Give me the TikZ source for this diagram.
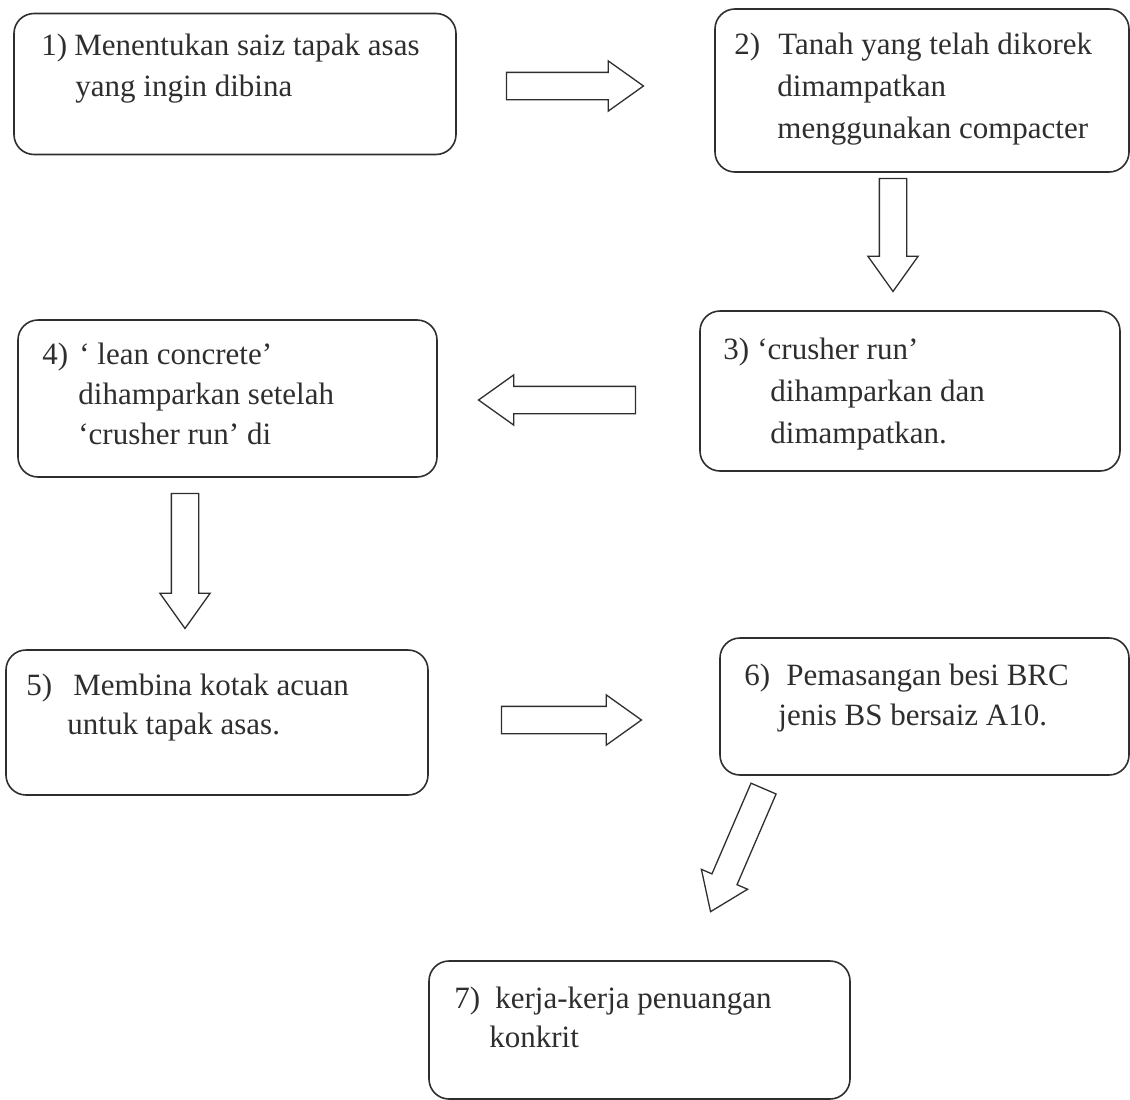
\documentclass[tikz,border=0pt]{standalone}
\usepackage{fontspec}
\setmainfont{Liberation Serif}
\usepackage{tikz}
\usepackage{xcolor}
\usetikzlibrary{shapes.arrows,calc}

\definecolor{inkgray}{HTML}{2E2E2E}

\begin{document}
\begin{tikzpicture}[x=1pt,y=-1pt,
    stepbox/.style={draw=inkgray, line width=1.6pt, rounded corners=20pt, inner sep=0pt},
    steptext/.style={anchor=base west, inner sep=0pt, text=inkgray, font=\fontsize{31}{#1}\selectfont},
    steptext/.default=40,
    flowarrow/.style={single arrow, draw=inkgray, line width=1.3pt, inner sep=13pt, anchor=tail,
        single arrow head extend=11.5pt, single arrow tip angle=71, minimum width=49pt}]
            \useasboundingbox (0,0) rectangle (1130,1100);

            % the seven steps
            \node[stepbox, minimum width=442pt, minimum height=141pt] (s1) at (235,84) {};
            \node[stepbox, minimum width=414pt, minimum height=163pt] (s2) at (922,90.5) {};
            \node[stepbox, minimum width=420pt, minimum height=160pt] (s3) at (910,391) {};
            \node[stepbox, minimum width=419pt, minimum height=157pt] (s4) at (227.5,398.5) {};
            \node[stepbox, minimum width=422pt, minimum height=145pt] (s5) at (217,722.5) {};
            \node[stepbox, minimum width=409pt, minimum height=137pt] (s6) at (924.5,706.5) {};
            \node[stepbox, minimum width=421pt, minimum height=138pt] (s7) at (639.5,1030) {};

            \node[steptext=41] (t1) at ($(s1.north west)+(28,43)$) {\begin{tabular}[t]{@{}l@{}}\makebox[33pt][l]{1)}Menentukan saiz tapak asas\\\hspace*{34pt}yang ingin dibina\end{tabular}};
            \node[steptext=42] (t2) at ($(s2.north west)+(20,46)$) {\begin{tabular}[t]{@{}l@{}}\makebox[44pt][l]{2)}Tanah yang telah dikorek\\\hspace*{43pt}dimampatkan\\\hspace*{43pt}menggunakan compacter\end{tabular}};
            \node[steptext=42] (t3) at ($(s3.north west)+(24,49)$) {\begin{tabular}[t]{@{}l@{}}\makebox[34pt][l]{3)}‘crusher run’\\\hspace*{47pt}dihamparkan dan\\\hspace*{47pt}dimampatkan.\end{tabular}};
            \node[steptext] (t4) at ($(s4.north west)+(25,45)$) {\begin{tabular}[t]{@{}l@{}}\makebox[37pt][l]{4)}‘ lean concrete’\\\hspace*{36pt}dihamparkan setelah\\\hspace*{36pt}‘crusher run’ di\end{tabular}};
            \node[steptext=39] (t5) at ($(s5.north west)+(21,46)$) {\begin{tabular}[t]{@{}l@{}}\makebox[47pt][l]{5)}Membina kotak acuan\\\hspace*{41pt}untuk tapak asas.\end{tabular}};
            \node[steptext] (t6) at ($(s6.north west)+(25,48)$) {\begin{tabular}[t]{@{}l@{}}\makebox[42pt][l]{6)}Pemasangan besi BRC\\\hspace*{34pt}jenis BS bersaiz A10.\end{tabular}};
            \node[steptext=39] (t7) at ($(s7.north west)+(26,48)$) {\begin{tabular}[t]{@{}l@{}}\makebox[41pt][l]{7)}kerja-kerja penuangan\\\hspace*{35pt}konkrit\end{tabular}};

            % block arrows between the steps
            \node[flowarrow, minimum height=137pt] (a12) at ($(s1.east)+(49,2)$) {};
            \node[flowarrow, minimum height=113pt, rotate=-90] (a23) at ($(s2.south)+(-29,5)$) {};
            \node[flowarrow, minimum height=157pt, rotate=180] (a34) at ($(s3.west)+(-63,9)$) {};
            \node[flowarrow, minimum height=135pt, rotate=-90] (a45) at ($(s4.south)+(-42.5,15)$) {};
            \node[flowarrow, minimum height=140pt] (a56) at ($(s5.east)+(72,-2.5)$) {};
            \node[flowarrow, minimum height=134pt, rotate=-113.3] (a67) at ($(s6.south)+(-160.7,12.2)$) {};
        \end{tikzpicture}
\end{document}
